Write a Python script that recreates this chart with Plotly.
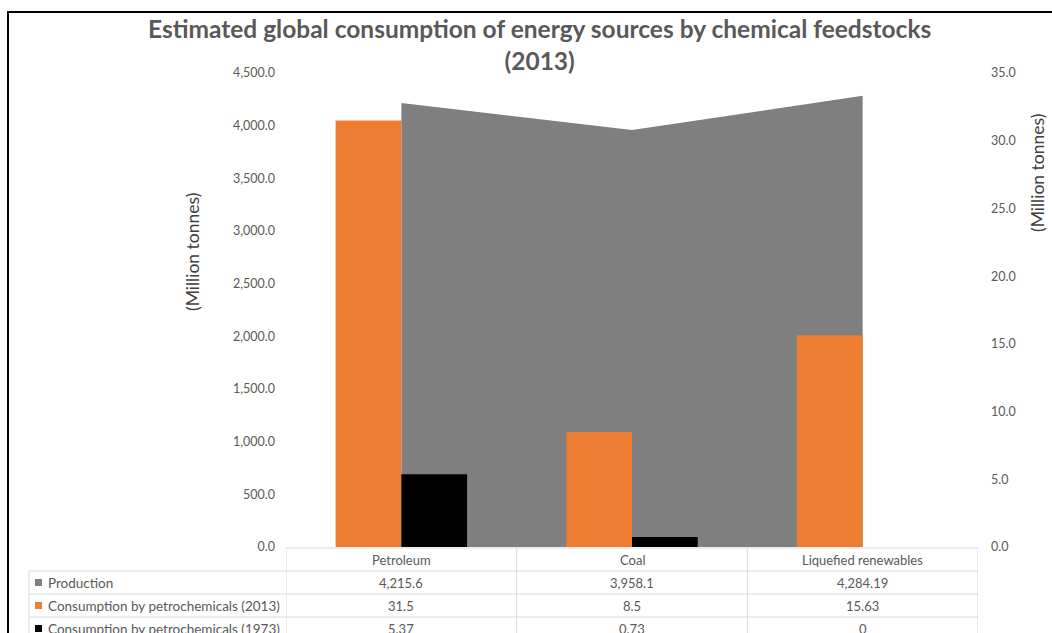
import plotly.graph_objects as go

W, H = 1052, 633

categories = ["Petroleum", "Coal", "Liquefied renewables"]
production = [4215.6, 3958.1, 4284.19]
cons_2013 = [31.5, 8.5, 15.63]
cons_1973 = [5.37, 0.73, 0]
production_lbl = ["4,215.6", "3,958.1", "4,284.19"]
cons_2013_lbl = ["31.5", "8.5", "15.63"]
cons_1973_lbl = ["5.37", "0.73", "0"]

series_names = ["Production", "Consumption by petrochemicals (2013)", "Consumption by petrochemicals (1973)"]
series_colors = ["#7F7F7F", "#ED7D31", "#000000"]
series_labels = [production_lbl, cons_2013_lbl, cons_1973_lbl]

FONT = "Lato, 'Open Sans', sans-serif"
TXT = "#595959"
GRID = "#D9D9D9"


def px(p):
    return p / W


def py(p):
    return 1 - p / H


fig = go.Figure()
fig.add_trace(go.Scatter(
    x=categories, y=production, name=series_names[0], mode="lines",
    fill="tozeroy", fillcolor=series_colors[0], line=dict(width=0, color=series_colors[0]),
    yaxis="y", hoverinfo="x+y",
))
fig.add_trace(go.Bar(x=categories, y=cons_2013, name=series_names[1],
                     marker=dict(color=series_colors[1], line=dict(width=0)), yaxis="y2"))
fig.add_trace(go.Bar(x=categories, y=cons_1973, name=series_names[2],
                     marker=dict(color=series_colors[2], line=dict(width=0)), yaxis="y2"))

x0, x1 = 286, 978
y_bot, y_top = 547, 73

fig.update_layout(
    width=W, height=H,
    margin=dict(l=0, r=0, t=0, b=0, autoexpand=False),
    paper_bgcolor="white", plot_bgcolor="white",
    showlegend=False,
    barmode="group", bargap=0.43, bargroupgap=0,
    font=dict(family=FONT, color=TXT, size=12),
    xaxis=dict(domain=[px(x0), px(x1)], range=[-0.5, 2.5], showticklabels=False,
               showgrid=False, zeroline=False, showline=False, ticks="", automargin=False),
    yaxis=dict(domain=[py(y_bot), py(y_top)], range=[0, 4500], dtick=500,
               tickformat=",.1f", showgrid=False, zeroline=False, showline=False,
               ticks="", ticklabelstandoff=10, tickfont=dict(size=12.5, color=TXT), automargin=False),
    yaxis2=dict(domain=[py(y_bot), py(y_top)], range=[0, 35], dtick=5, overlaying="y",
                side="right", tickformat=".1f", showgrid=False, zeroline=False,
                showline=False, ticks="", ticklabelstandoff=12, tickfont=dict(size=12.5, color=TXT),
                automargin=False),
)

annotations = [
    dict(text="<b>Estimated global consumption of energy sources by chemical feedstocks</b><br><b>(2013)</b>",
         x=px(539), y=py(44), xref="paper", yref="paper", showarrow=False,
         font=dict(size=24.5, color=TXT, family=FONT), xanchor="center", yanchor="middle"),
    dict(text="(Million tonnes)", x=px(192), y=py(252), xref="paper", yref="paper",
         showarrow=False, textangle=-90, font=dict(size=17.5, color="#404040", family=FONT),
         xanchor="center", yanchor="middle"),
    dict(text="(Million tonnes)", x=px(1037), y=py(173), xref="paper", yref="paper",
         showarrow=False, textangle=-90, font=dict(size=17.5, color="#404040", family=FONT),
         xanchor="center", yanchor="middle"),
]

shapes = []
# outer frame
shapes.append(dict(type="rect", xref="paper", yref="paper", x0=px(8), x1=1.02,
                   y0=-0.02, y1=py(12), line=dict(color="#000000", width=2), layer="above"))

# data table
row_edges = [548, 571, 594, 617, 640]
tbl_left = 29
line = dict(color=GRID, width=1)
shapes.append(dict(type="line", xref="x", yref="paper", x0=-0.5, x1=2.5,
                   y0=py(row_edges[0]), y1=py(row_edges[0]), line=line))
for r in row_edges[1:]:
    shapes.append(dict(type="line", xref="paper", yref="paper", x0=px(tbl_left), x1=px(x1),
                       y0=py(r), y1=py(r), line=line))
for i in range(len(categories) + 1):
    shapes.append(dict(type="line", xref="x", yref="paper", x0=i - 0.5, x1=i - 0.5,
                       y0=py(row_edges[0]), y1=py(row_edges[-1]), line=line))
shapes.append(dict(type="line", xref="paper", yref="paper", x0=px(tbl_left), x1=px(tbl_left),
                   y0=py(row_edges[1]), y1=py(row_edges[-1]), line=line))

for i, c in enumerate(categories):
    annotations.append(dict(text=c, x=i, xref="x", y=py((row_edges[0] + row_edges[1]) / 2),
                            yref="paper", showarrow=False, font=dict(size=13, color=TXT),
                            xanchor="center", yanchor="middle"))
for r, (name, col, labels) in enumerate(zip(series_names, series_colors, series_labels)):
    yc = py((row_edges[r + 1] + row_edges[r + 2]) / 2)
    shapes.append(dict(type="rect", xref="paper", yref="paper", x0=px(35), x1=px(42),
                       y0=yc - 3.5 / H, y1=yc + 3.5 / H, fillcolor=col, line=dict(width=0)))
    annotations.append(dict(text=name, x=px(46), xref="paper", y=yc, yref="paper",
                            showarrow=False, font=dict(size=13.5, color=TXT),
                            xanchor="left", yanchor="middle"))
    for i, lab in enumerate(labels):
        annotations.append(dict(text=lab, x=i, xref="x", y=yc, yref="paper", showarrow=False,
                                font=dict(size=13, color=TXT), xanchor="center", yanchor="middle"))

fig.update_layout(annotations=annotations, shapes=shapes)
fig.write_html("out.html")
